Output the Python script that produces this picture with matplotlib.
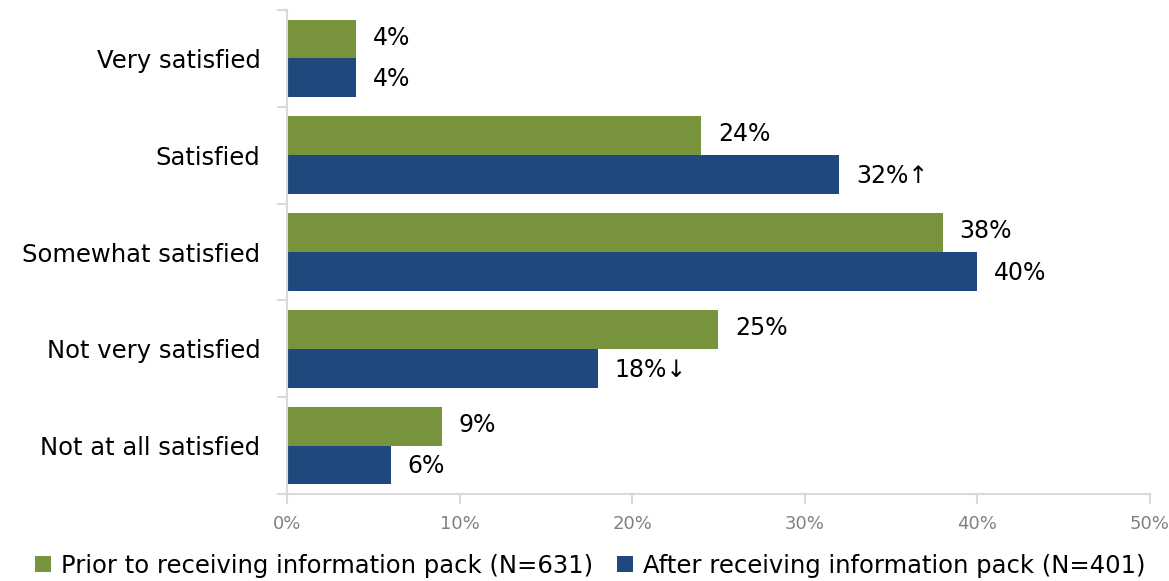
import matplotlib.pyplot as plt
import numpy as np

plt.rcParams['font.family'] = ['DejaVu Sans']

categories = ['Very satisfied', 'Satisfied', 'Somewhat satisfied',
              'Not very satisfied', 'Not at all satisfied']
prior = [4, 24, 38, 25, 9]
after = [4, 32, 40, 18, 6]
after_marks = ['', '\u2191', '', '\u2193', '']
x_ticks = [0, 10, 20, 30, 40, 50]

green = '#77933C'
blue = '#1F497D'
grid_col = '#D9D9D9'

fig = plt.figure(figsize=(11.69, 5.81), dpi=100)
ax = fig.add_axes([0.2455, 0.1497, 0.9837 - 0.2455, 0.9828 - 0.1497])

y = np.arange(len(categories))
h = 0.4
ax.barh(y - h / 2, prior, height=h, color=green, label='Prior to receiving information pack (N=631)')
ax.barh(y + h / 2, after, height=h, color=blue, label='After receiving information pack (N=401)')

for i in range(len(categories)):
    ax.annotate(f'{prior[i]}%', (prior[i], y[i] - h / 2), xytext=(12, 1),
                textcoords='offset points', va='center', ha='left', fontsize=17, color='#000000')
    ax.annotate(f'{after[i]}%{after_marks[i]}', (after[i], y[i] + h / 2), xytext=(12, -1),
                textcoords='offset points', va='center', ha='left', fontsize=17, color='#000000')

ax.set_xlim(0, 50)
ax.set_ylim(len(categories) - 0.5, -0.5)
ax.set_xticks(x_ticks)
ax.set_xticklabels([f'{v}%' for v in x_ticks], color='#808080', fontsize=13)
ax.set_yticks(y)
ax.set_yticklabels(categories, fontsize=17.5)
ax.set_yticks(np.arange(len(categories) + 1) - 0.5, minor=True)
ax.tick_params(axis='y', which='major', length=0, pad=19)
ax.tick_params(axis='y', which='minor', length=7, color=grid_col, width=1.5)
ax.tick_params(axis='x', length=7, color=grid_col, width=1.5, pad=8)

for s in ['top', 'right']:
    ax.spines[s].set_visible(False)
for s in ['left', 'bottom']:
    ax.spines[s].set_color(grid_col)
    ax.spines[s].set_linewidth(1.5)

fig.legend(loc='lower center', bbox_to_anchor=(0.505, -0.032), ncol=2, frameon=False,
           fontsize=17.5, handlelength=0.65, handleheight=0.65, handletextpad=0.4,
           columnspacing=1.0)

plt.savefig('out.png', dpi=100)
